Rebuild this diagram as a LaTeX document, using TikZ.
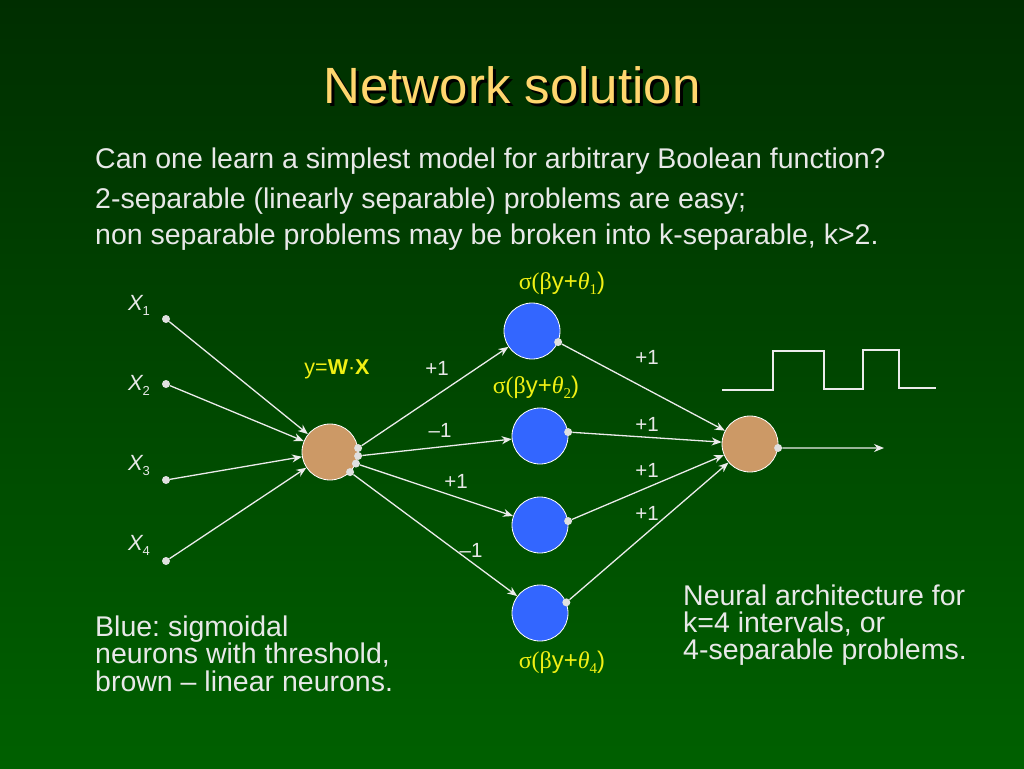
\documentclass[tikz,border=0pt]{standalone}
\usepackage{fontspec}
\setmainfont{Liberation Sans}
\newfontfamily\seriffam{Liberation Serif}
\usetikzlibrary{arrows.meta}
\definecolor{bgtop}{RGB}{0,46,0}
\definecolor{bgbot}{RGB}{0,96,0}
\definecolor{txt}{RGB}{232,232,232}
\definecolor{titlec}{RGB}{255,214,110}
\definecolor{ylw}{RGB}{240,240,20}
\definecolor{bluen}{RGB}{51,102,255}
\definecolor{brownn}{RGB}{204,153,102}
\frenchspacing
\begin{document}
\begin{tikzpicture}[x=1pt,y=-1pt,
  body/.style={font=\fontsize{28.5}{27}\selectfont, text=txt, anchor=base west, inner sep=0pt, align=left},
  lbl/.style={font=\fontsize{20.5}{22}\selectfont, text=txt, inner sep=0pt},
  xl/.style={font=\fontsize{22}{24}\selectfont\itshape, text=txt, inner sep=0pt},
  sig/.style={font=\fontsize{24}{26}\selectfont, text=ylw, inner sep=0pt},
  neuron/.style={circle, minimum size=56pt, inner sep=0pt, draw=white, line width=0.8pt},
  dotc/.style={circle, fill=white!88!black, minimum size=8pt, inner sep=0pt},
  conn/.style={draw=white!92!black, line width=1.3pt, -{Stealth[length=10pt,width=8pt]}},
  wire/.style={draw=white!92!black, line width=1.2pt}
]
\useasboundingbox (0,0) rectangle (1024,768);
\shade[top color=bgtop, bottom color=bgbot] (0,0) rectangle (1024,768);

% title with shadow
\node[font=\fontsize{51}{54}\selectfont, text=titlec, anchor=base, inner sep=0pt] (title) at (512,103)
  {\makebox[0pt][l]{\hspace{3pt}\raisebox{-3pt}{\color{black}Network solution}}Network solution};

\node[body] (t1) at (95,168) {Can one learn a simplest model for arbitrary Boolean function?};
\node[body] (t2) at (95,208) {2-separable (linearly separable) problems are easy;};
\node[body] (t3) at (95,244) {non separable problems may be broken into k-separable, k>2.};

% input labels and dots
\node[xl] (lx1) at (139,305) {X\raisebox{-5pt}{\fontsize{13}{13}\selectfont\upshape 1}};
\node[xl] (lx2) at (139,385) {X\raisebox{-5pt}{\fontsize{13}{13}\selectfont\upshape 2}};
\node[xl] (lx3) at (139,465) {X\raisebox{-5pt}{\fontsize{13}{13}\selectfont\upshape 3}};
\node[xl] (lx4) at (139,545) {X\raisebox{-5pt}{\fontsize{13}{13}\selectfont\upshape 4}};
\node[dotc] (i1) at (166,319) {};
\node[dotc] (i2) at (166,384) {};
\node[dotc] (i3) at (166,480) {};
\node[dotc] (i4) at (166,561) {};

% neurons
\node[neuron, fill=brownn] (h) at (330,452) {};
\node[neuron, fill=bluen] (s1) at (532,331) {};
\node[neuron, fill=bluen] (s2) at (540,436) {};
\node[neuron, fill=bluen] (s3) at (540,525) {};
\node[neuron, fill=bluen] (s4) at (540,613) {};
\node[neuron, fill=brownn] (o) at (750,444) {};

% input connectors
\draw[conn] (i1) -- (h);
\draw[conn] (i2) -- (h);
\draw[conn] (i3) -- (h);
\draw[conn] (i4) -- (h);

% hidden output dots
\node[dotc] (h1) at (h.8) {};
\node[dotc] (h2) at (h.-8) {};
\node[dotc] (h3) at (h.-24) {};
\node[dotc] (h4) at (h.-45) {};
\draw[conn] (h1) -- (s1);
\draw[conn] (h2) -- (s2);
\draw[conn] (h3) -- (s3);
\draw[conn] (h4) -- (s4);

% sigmoid output dots
\node[dotc] (d1) at (s1.-23) {};
\node[dotc] (d2) at (s2.8) {};
\node[dotc] (d3) at (s3.8) {};
\node[dotc] (d4) at (s4.22) {};
\draw[conn] (d1) -- (o);
\draw[conn] (d2) -- (o);
\draw[conn] (d3) -- (o);
\draw[conn] (d4) -- (o);

% output
\node[dotc] (od) at (o.-8) {};
\coordinate (oend) at (884,448);
\draw[conn] (od) -- (oend);

% waveform
\draw[wire] (722,390) -- (773,390) -- (773,351) -- (824,351) -- (824,389) -- (863,389) -- (863,350) -- (899,350) -- (899,388) -- (936,388);

% weight labels
\node[lbl] (w1) at (437,368) {+1};
\node[lbl] (w2) at (440,430) {–1};
\node[lbl] (w3) at (456,481) {+1};
\node[lbl] (w4) at (471,550) {–1};
\node[lbl] (v1) at (647,357) {+1};
\node[lbl] (v2) at (647,424) {+1};
\node[lbl] (v3) at (647,470) {+1};
\node[lbl] (v4) at (647,513) {+1};

\node[sig, font=\fontsize{21.5}{24}\selectfont] (wx) at (337,369) {y=\textbf{W}·\textbf{X}};
\node[sig] (sg1) at (562,283) {{\seriffam σ(β}y+{\seriffam\itshape θ\raisebox{-5pt}{\fontsize{15}{15}\selectfont\upshape 1}})};
\node[sig] (sg2) at (536,387) {{\seriffam σ(β}y+{\seriffam\itshape θ\raisebox{-5pt}{\fontsize{15}{15}\selectfont\upshape 2}})};
\node[sig] (sg4) at (562,662) {{\seriffam σ(β}y+{\seriffam\itshape θ\raisebox{-5pt}{\fontsize{15}{15}\selectfont\upshape 4}})};

% bottom texts
\node[body, font=\fontsize{28.5}{27.5}\selectfont] (bl) at (95,691) {Blue: sigmoidal\\neurons with threshold,\\brown – linear neurons.};
\node[body, font=\fontsize{28.5}{27}\selectfont] (br) at (683,659) {Neural architecture for\\k=4 intervals, or\\4-separable problems.};
\end{tikzpicture}
\end{document}
